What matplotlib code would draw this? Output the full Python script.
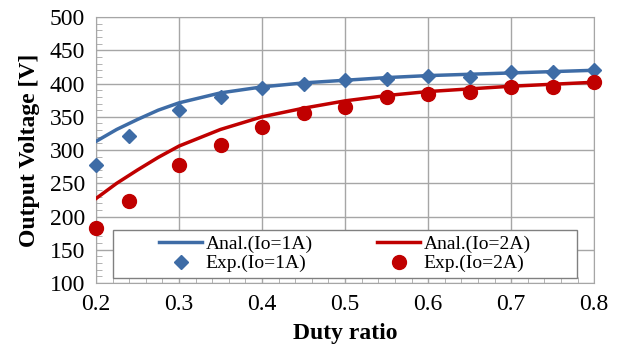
import numpy as np
import matplotlib.pyplot as plt
from matplotlib.patches import Rectangle

plt.rcParams['font.family'] = ['Liberation Serif', 'DejaVu Serif']

# analytical curves
duty_anal = [0.2, 0.225, 0.25, 0.275, 0.3, 0.35, 0.4, 0.45, 0.5, 0.55, 0.6, 0.65, 0.7, 0.75, 0.8]
anal_1a = [313, 331, 346, 360, 371, 386, 395, 401, 405, 409, 412, 414, 416, 418, 420]
anal_2a = [227, 250, 270, 289, 306, 331, 350, 363, 374, 382, 388, 392, 396, 399, 402]

# measured points
duty_exp = [0.2, 0.24, 0.3, 0.35, 0.4, 0.45, 0.5, 0.55, 0.6, 0.65, 0.7, 0.75, 0.8]
exp_1a = [278, 321, 360, 380, 394, 399, 406, 407, 412, 410, 417, 417, 421]
exp_2a = [183, 224, 277, 308, 335, 356, 365, 380, 384, 388, 395, 395, 402]

blue = '#3E6CA6'
red = '#C00000'
grid_c = '#A6A6A6'

fig = plt.figure(figsize=(6.19, 3.56), dpi=100)
ax = fig.add_axes([0.155, 0.205, 0.805, 0.747])

l1, = ax.plot(duty_anal, anal_1a, color=blue, lw=2.5, zorder=3)
l2, = ax.plot(duty_anal, anal_2a, color=red, lw=2.5, zorder=3)
m1, = ax.plot(duty_exp, exp_1a, 'D', color=blue, ms=7, ls='none', zorder=4, clip_on=False)
m2, = ax.plot(duty_exp, exp_2a, 'o', color=red, ms=10, ls='none', zorder=4, clip_on=False)

ax.set_xlim(0.2, 0.8)
ax.set_ylim(100, 500)
ax.set_xticks(np.arange(0.2, 0.81, 0.1))
ax.set_yticks(np.arange(100, 501, 50))
ax.set_xticks(np.arange(0.2, 0.801, 0.02), minor=True)
ax.set_yticks(np.arange(100, 501, 10), minor=True)
ax.set_xticklabels(['0.2', '0.3', '0.4', '0.5', '0.6', '0.7', '0.8'])
ax.tick_params(axis='both', which='major', labelsize=17, length=0, pad=8, colors='black')
ax.tick_params(axis='both', which='minor', direction='in', length=4, color=grid_c)
ax.grid(True, which='major', color=grid_c, lw=1)
for s in ax.spines.values():
    s.set_color(grid_c)

ax.set_xlabel('Duty ratio', fontsize=17, fontweight='bold', labelpad=6)
ax.set_ylabel('Output Voltage [V]', fontsize=17, fontweight='bold', labelpad=7)

# legend box drawn separately so the entries can sit centred inside it
box = Rectangle((0.034, 0.019), 0.932, 0.181, transform=ax.transAxes, facecolor='white',
                edgecolor='#808080', lw=1, zorder=5)
ax.add_patch(box)
leg = ax.legend([l1, m1, l2, m2],
                ['Anal.(Io=1A)', 'Exp.(Io=1A)', 'Anal.(Io=2A)', 'Exp.(Io=2A)'], ncol=2,
                bbox_to_anchor=(0.5, 0.11), loc='center', fontsize=14, frameon=False,
                handlelength=2.2, handletextpad=0.2, borderpad=0, labelspacing=0.1,
                columnspacing=3.3)
leg.set_zorder(6)

fig.savefig('out.png', dpi=100)
